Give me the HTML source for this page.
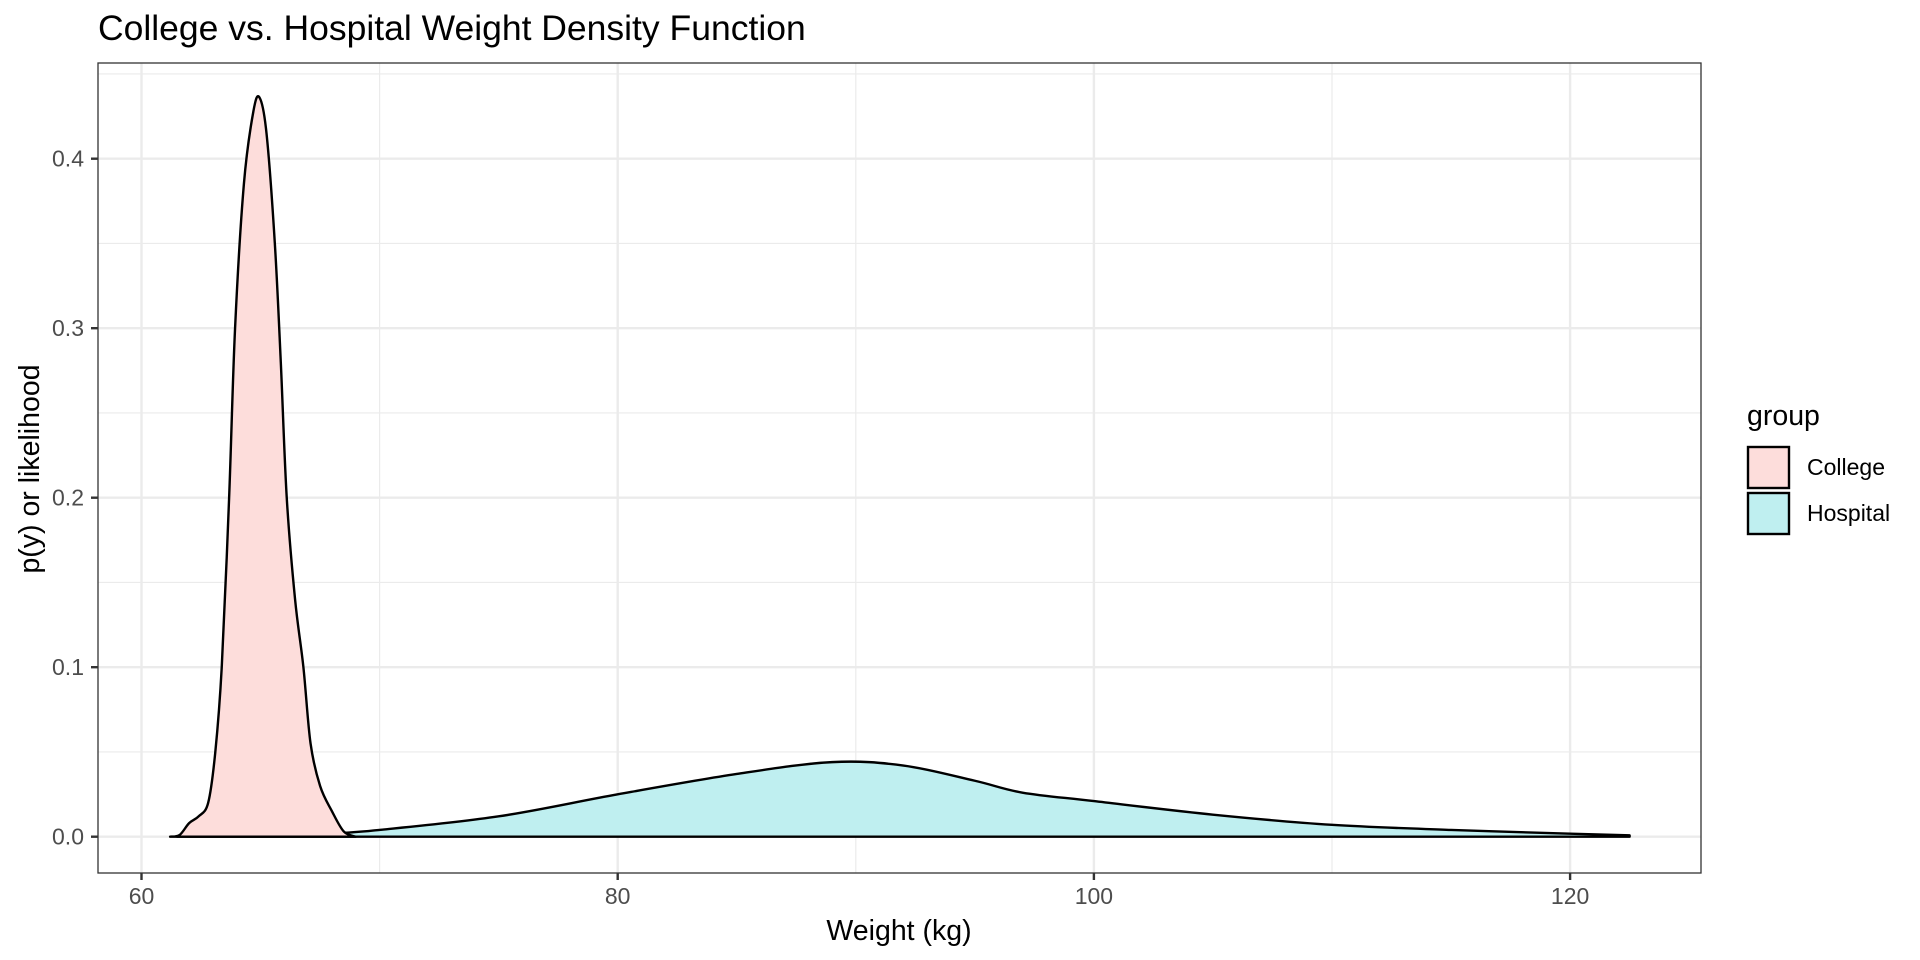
<!DOCTYPE html>
<html><head><meta charset="utf-8"><style>
html,body{margin:0;padding:0;background:#fff;}
svg{display:block;font-family:"Liberation Sans",Arial,sans-serif;}
</style></head><body>
<svg id="s" width="1920" height="960" xmlns="http://www.w3.org/2000/svg">
<rect width="1920" height="960" fill="#fff"/>
<g id="grid"></g>
<g id="data"></g>
<rect x="98" y="63" width="1603" height="810" fill="none" stroke="#333" stroke-width="1.3"/>
<g id="ticks" font-size="23" fill="#4d4d4d"></g>
<text x="98" y="40" font-size="35.5" fill="#000">College vs. Hospital Weight Density Function</text>
<text x="899" y="940" font-size="28.5" text-anchor="middle" fill="#000">Weight (kg)</text>
<text transform="translate(39,469) rotate(-90)" font-size="28.5" text-anchor="middle" fill="#000">p(y) or likelihood</text>
<text x="1747" y="425" font-size="28.5" fill="#000">group</text>
<rect x="1748" y="447" width="41" height="41" fill="#FDDDDB" stroke="#000" stroke-width="2.4"/>
<rect x="1748" y="493" width="41" height="41" fill="#BFEFF0" stroke="#000" stroke-width="2.4"/>
<text x="1807" y="475" font-size="23" fill="#000">College</text>
<text x="1807" y="521" font-size="23" fill="#000">Hospital</text>
</svg>
<script>
const X=v=>141.5+(v-60)*23.81, Y=d=>836.7-d*1695;
const NS="http://www.w3.org/2000/svg";
function el(p,t,a,txt){const e=document.createElementNS(NS,t);for(const k in a)e.setAttribute(k,a[k]);if(txt!=null)e.textContent=txt;p.appendChild(e);return e;}
const g=document.getElementById('grid');
for(const v of [70,90,110]) el(g,'line',{x1:X(v),x2:X(v),y1:63,y2:873,stroke:'#EBEBEB','stroke-width':1.2});
for(const d of [0.05,0.15,0.25,0.35,0.45]) el(g,'line',{x1:98,x2:1701,y1:Y(d),y2:Y(d),stroke:'#EBEBEB','stroke-width':1.2});
for(const v of [60,80,100,120]) el(g,'line',{x1:X(v),x2:X(v),y1:63,y2:873,stroke:'#EBEBEB','stroke-width':2.4});
for(const d of [0,0.1,0.2,0.3,0.4]) el(g,'line',{x1:98,x2:1701,y1:Y(d),y2:Y(d),stroke:'#EBEBEB','stroke-width':2.4});
const t=document.getElementById('ticks');
for(const v of [60,80,100,120]){el(t,'line',{x1:X(v),x2:X(v),y1:873,y2:880,stroke:'#333','stroke-width':2.4});el(t,'text',{x:X(v),y:904,'text-anchor':'middle'},String(v));}
for(const d of [0,0.1,0.2,0.3,0.4]){el(t,'line',{x1:91,x2:98,y1:Y(d),y2:Y(d),stroke:'#333','stroke-width':2.4});el(t,'text',{x:84,y:Y(d)+8,'text-anchor':'end'},d.toFixed(1));}
function smooth(pts){let s='M'+pts[0][0]+','+pts[0][1];for(let i=0;i<pts.length-1;i++){const p0=pts[i-1]||pts[i],p1=pts[i],p2=pts[i+1],p3=pts[i+2]||p2;
s+=' C'+(p1[0]+(p2[0]-p0[0])/6)+','+(p1[1]+(p2[1]-p0[1])/6)+' '+(p2[0]-(p3[0]-p1[0])/6)+','+(p2[1]-(p3[1]-p1[1])/6)+' '+p2[0]+','+p2[1];}return s;}
const hosp=[[61.5,0],[65,0.0008],[68,0.002],[70,0.004],[75,0.012],[80,0.025],[85,0.037],[89.0,0.044],[92,0.042],[95,0.033],[97,0.026],[100,0.021],[105,0.013],[110,0.007],[115,0.004],[120,0.0018],[122.5,0.0008]];
const col=[[61.2,0],[61.6,0.001],[62.0,0.008],[62.4,0.012],[62.8,0.02],[63.1,0.05],[63.37,0.1],[63.68,0.2],[63.93,0.3],[64.3,0.385],[64.7,0.428],[64.96,0.436],[65.25,0.415],[65.6,0.35],[65.85,0.28],[66.1,0.2],[66.45,0.14],[66.8,0.1],[67.1,0.055],[67.5,0.03],[68.0,0.015],[68.5,0.003],[69.0,0.0]];
const dg=document.getElementById('data');
function area(data,fill){const p=data.map(a=>[X(a[0]),Y(a[1])]);const d=smooth(p)+' L'+p[p.length-1][0]+','+Y(0)+' L'+p[0][0]+','+Y(0)+' Z';
el(dg,'path',{d:d,fill:fill,stroke:'#000','stroke-width':2.4,'stroke-linejoin':'round'});}
area(hosp,'#BFEFF0');
area(col,'#FDDDDB');
</script>
</body></html>
